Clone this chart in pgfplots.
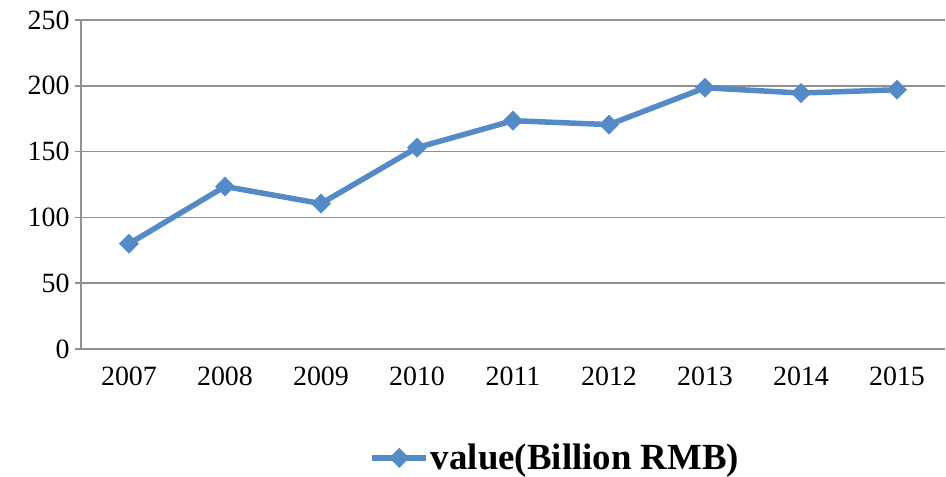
\documentclass[border=0pt]{standalone}
\usepackage{pgfplots}
\pgfplotsset{compat=1.18}
\usepackage{fontspec}
\setmainfont{Liberation Serif}
\definecolor{lineblue}{RGB}{84,138,197}
\definecolor{gridgray}{RGB}{145,145,145}
\begin{document}
\begin{tikzpicture}
\useasboundingbox (-81bp,-128bp) rectangle (865bp,349bp);
\begin{axis}[
  at={(0,0)}, anchor=south west,
  scale only axis,
  width=864bp, height=329bp,
  xmin=-0.5, xmax=8.5,
  ymin=0, ymax=250,
  xtick={0,...,8},
  xticklabels={2007,2008,2009,2010,2011,2012,2013,2014,2015},
  major x tick style={draw=none},
  extra x ticks={-0.5,0.5,...,8.5},
  extra x tick labels={},
  extra x tick style={major tick length=9bp, tick style={gridgray, line width=1.6bp}, grid=none},
  ytick={0,50,...,250},
  ymajorgrids,
  grid style={gridgray, line width=1.6bp},
  axis lines=left,
  axis line style={-, gridgray, line width=1.6bp},
  tick align=outside,
  major tick length=6bp,
  tick style={gridgray, line width=1.6bp},
  ticklabel style={font=\fontsize{28}{30}\selectfont, text=black},
  /pgf/number format/assume math mode=true,
  xticklabel style={yshift=-8bp},
  yticklabel style={xshift=-2bp},
  legend style={draw=none, fill=none, at={(0.549,-0.331)}, anchor=center,
    font=\fontsize{37}{40}\selectfont\bfseries, inner sep=0pt},
  legend cell align=left,
  legend image code/.code={\draw[#1, mark repeat=2, mark phase=2] plot coordinates {(0bp,0bp) (27bp,0bp) (54bp,0bp)};},
]
\addplot[lineblue, line width=5.5bp, mark=square*, mark size=6.8bp, mark options={rotate=45, fill=lineblue, draw=lineblue, line width=0.5bp}]
coordinates {(0,80) (1,123.5) (2,110.5) (3,153) (4,173.5) (5,170.5) (6,198.5) (7,194.5) (8,197)};
\addlegendentry{value(Billion RMB)}
\end{axis}
\end{tikzpicture}
\end{document}
